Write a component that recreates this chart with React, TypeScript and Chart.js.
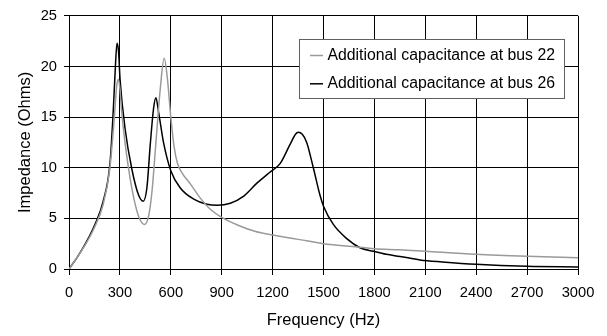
import React, { useEffect, useRef } from 'react';
import { Chart, registerables } from 'chart.js';

Chart.register(...registerables);

const FONT = '"Liberation Sans", Arial, sans-serif';

const seriesLabels = ['Additional capacitance at bus 22', 'Additional capacitance at bus 26'];
const seriesColors = ['#9a9a9a', '#000000'];

const freq22 = [0, 50, 100, 150, 200, 240, 265, 282, 292, 300, 310, 330, 370, 410, 445, 470, 490, 510, 538, 561, 580, 600, 620, 640, 666, 715, 774, 833, 900, 1000, 1100, 1200, 1300, 1400, 1500, 1650, 1800, 1950, 2100, 2400, 2700, 3000];
const imp22 = [0, 1.2, 2.5, 4.1, 6.3, 9.8, 14.5, 18.2, 18.7, 17.8, 15.6, 12.5, 8.0, 5.2, 4.4, 5.3, 7.8, 12.0, 17.8, 20.8, 18.8, 15.0, 12.0, 10.4, 9.5, 8.4, 7.0, 5.9, 5.1, 4.3, 3.7, 3.35, 3.05, 2.8, 2.5, 2.25, 2.0, 1.9, 1.75, 1.45, 1.25, 1.1];

const freq26 = [0, 50, 100, 150, 200, 242, 262, 275, 283, 292, 301, 331, 370, 410, 437, 459, 479, 498, 512, 528, 557, 600, 656, 735, 813, 873, 951, 1030, 1109, 1180, 1244, 1300, 1335, 1351, 1375, 1401, 1440, 1479, 1500, 1558, 1637, 1715, 1794, 1870, 1951, 2069, 2200, 2400, 2700, 3000];
const imp26 = [0, 1.2, 2.6, 4.3, 6.6, 10.5, 16.0, 20.5, 22.3, 21.5, 18.7, 13.8, 9.9, 7.3, 6.7, 8.0, 12.3, 15.8, 16.9, 15.5, 12.5, 9.7, 8.0, 6.9, 6.4, 6.3, 6.5, 7.2, 8.5, 9.5, 10.4, 12.2, 13.3, 13.5, 13.3, 12.5, 10.0, 7.3, 6.2, 4.4, 3.0, 2.1, 1.75, 1.45, 1.24, 0.9, 0.7, 0.46, 0.26, 0.2];

const xTickStep = 300;
const yTickStep = 5;

const boxLegend = {
  id: 'boxLegend',
  afterDraw(chart: any) {
    const ctx = chart.ctx;
    const x0 = 299, y0 = 39, w = 265, h = 59;
    ctx.save();
    ctx.fillStyle = '#ffffff';
    ctx.fillRect(x0, y0, w, h);
    ctx.strokeStyle = '#606060';
    ctx.lineWidth = 1;
    ctx.strokeRect(x0 + 0.5, y0 + 0.5, w, h);
    chart.data.datasets.forEach((ds: any, i: number) => {
      const cy = 55.5 + i * 28.3;
      ctx.strokeStyle = ds.borderColor;
      ctx.lineWidth = 1.5;
      ctx.beginPath();
      ctx.moveTo(310, cy);
      ctx.lineTo(323, cy);
      ctx.stroke();
      ctx.fillStyle = '#000';
      ctx.font = `15.8px ${FONT}`;
      ctx.textBaseline = 'middle';
      ctx.textAlign = 'left';
      ctx.fillText(ds.label, 327.5, cy);
    });
    ctx.restore();
  },
};

export default function App() {
  const ref = useRef<HTMLCanvasElement>(null);
  useEffect(() => {
    const canvas = ref.current!;
    const chart = new Chart(canvas, {
      type: 'line',
      data: {
        datasets: [
          {
            label: seriesLabels[0],
            data: freq22.map((f, i) => ({ x: f, y: imp22[i] })),
            borderColor: seriesColors[0],
            borderWidth: 1.5,
            pointRadius: 0,
            cubicInterpolationMode: 'monotone',
            fill: false,
          },
          {
            label: seriesLabels[1],
            data: freq26.map((f, i) => ({ x: f, y: imp26[i] })),
            borderColor: seriesColors[1],
            borderWidth: 1.5,
            pointRadius: 0,
            cubicInterpolationMode: 'monotone',
            fill: false,
          },
        ],
      },
      options: {
        responsive: false,
        animation: false,
        layout: { padding: { left: 0, right: 29, top: 12, bottom: 0 } },
        plugins: { legend: { display: false }, tooltip: { enabled: false } },
        scales: {
          x: {
            type: 'linear',
            min: 0,
            max: 3000,
            afterFit: (s: any) => { s.height = 67; },
            ticks: { stepSize: xTickStep, color: '#000', font: { family: FONT, size: 14.7 }, padding: 9, maxRotation: 0, callback: (v: any) => String(v) },
            grid: { color: '#000', lineWidth: 1, tickLength: 6, drawTicks: true },
            border: { color: '#000', width: 1 },
            title: { display: true, text: 'Frequency (Hz)', color: '#000', font: { family: FONT, size: 16.5 }, padding: { top: 0, bottom: 6 } },
          },
          y: {
            min: 0,
            max: 25,
            afterFit: (s: any) => { s.width = 69; },
            ticks: { stepSize: yTickStep, color: '#000', font: { family: FONT, size: 14.7 }, padding: 7, callback: (v: any) => String(v) },
            grid: { color: '#000', lineWidth: 1, tickLength: 5 },
            border: { color: '#000', width: 1 },
            title: { display: true, text: 'Impedance (Ohms)', color: '#000', font: { family: FONT, size: 16.5 }, padding: { top: 16, bottom: 0 } },
          },
        },
      },
      plugins: [boxLegend],
    } as any);
    return () => chart.destroy();
  }, []);
  return (
    <div style={{ position: 'fixed', left: 0, top: 0, width: 607, height: 336, background: '#fff' }}>
      <canvas ref={ref} width={607} height={336} style={{ display: 'block' }} />
    </div>
  );
}
